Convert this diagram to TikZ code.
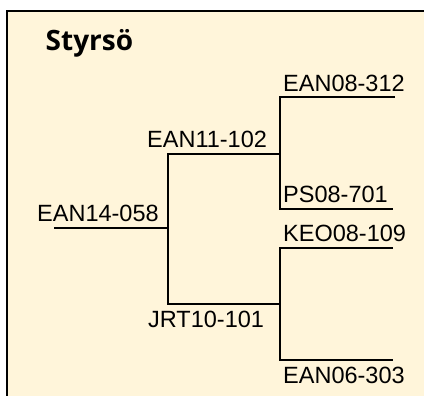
\documentclass[tikz,border=0pt]{standalone}
\usepackage{fontspec}
\setmainfont{Liberation Sans}
\newfontfamily\titlefont{Open Sans}
\definecolor{cream}{RGB}{255,245,218}
\begin{document}
\begin{tikzpicture}[x=1pt,y=-1pt,
  lab/.style={anchor=base west, inner sep=0pt, font=\fontsize{23.5}{28}\selectfont},
  titlestyle/.style={anchor=base west, inner sep=0pt, font=\titlefont\bfseries\fontsize{28}{32}\selectfont},
  branch/.style={draw=black, line width=2pt, line join=miter},
  frame/.style={draw=black, line width=2.5pt, fill=cream}]
\useasboundingbox (0,0) rectangle (424,396);
\clip (0,0) rectangle (424,396);
\draw[frame] (7,11) rectangle (440,412);
\node[titlestyle] (title) at (45.5,51) {Styrsö};
% coordinates
\coordinate (r0) at (54,228);
\coordinate (r1) at (168,228);
\coordinate (a0) at (280,154);
\coordinate (b0) at (168,304);
\coordinate (b1) at (280,304);
\coordinate (l1) at (395,97);
\coordinate (l2) at (393,209);
\coordinate (l3) at (393,248);
\coordinate (l4) at (393,360);
% branches
\draw[branch] (r0) -- (r1);
\draw[branch] (a0) -| (b0) -- (b1);
\draw[branch] (l1) -| (a0) |- (l2);
\draw[branch] (l3) -| (b1) |- (l4);
% labels
\node[lab] (n1) at (283,92) {EAN08-312};
\node[lab] (n2) at (147,148) {EAN11-102};
\node[lab] (n3) at (283,203) {PS08-701};
\node[lab] (n4) at (37,222) {EAN14-058};
\node[lab] (n5) at (283,241) {KEO08-109};
\node[lab] (n6) at (148,327) {JRT10-101};
\node[lab] (n7) at (283,383) {EAN06-303};
\end{tikzpicture}
\end{document}
